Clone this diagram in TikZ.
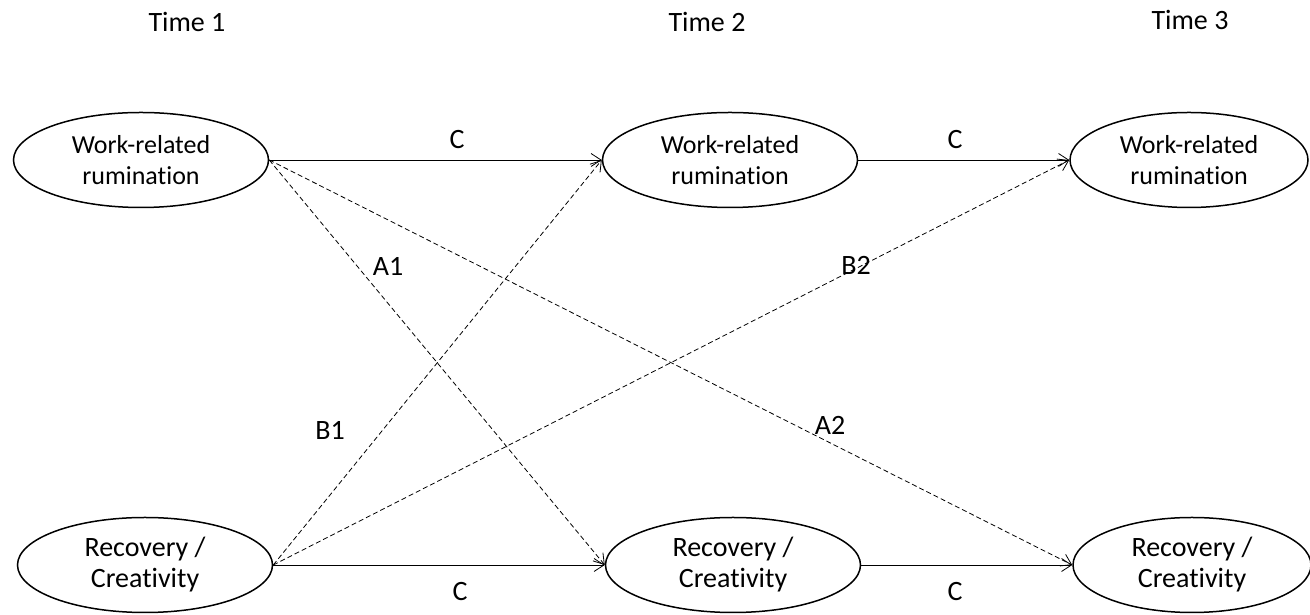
\documentclass[tikz,border=0pt]{standalone}
\usepackage{fontspec}
\setmainfont{Carlito}[Ligatures={NoCommon}]
\usetikzlibrary{shapes.geometric,arrows.meta}
\begin{document}
\begin{tikzpicture}[
        x=1pt, y=1pt,
        var/.style={draw, ellipse, line width=1.5pt, minimum width=255pt, minimum height=95pt, inner sep=0pt, align=center, font=\fontsize{26}{31}\selectfont},
        lag/.style={draw, line width=0.8pt, -{Straight Barb[length=10pt,width=13pt]}},
        cross/.style={lag, dash pattern=on 5pt off 3pt},
        lbl/.style={font=\fontsize{28}{32}\selectfont},
    ]
    \useasboundingbox (0,0) rectangle (1310,615);
    % time points
    \node[lbl](t1) at (187,593){Time 1};
    \node[lbl](t2) at (707,593){Time 2};
    \node[lbl](t3) at (1190,595){Time 3};
    % variables
    \node[var](rum1) at (141,455){Work-related\\rumination};
    \node[var](rum2) at (730,455){Work-related\\rumination};
    \node[var, minimum width=238pt](rum3) at (1189,455){Work-related\\rumination};
    \node[var, font=\fontsize{28}{31}\selectfont](rec1) at (145,50){Recovery /\\Creativity};
    \node[var, font=\fontsize{28}{31}\selectfont](rec2) at (733,50){Recovery /\\Creativity};
    \node[var, font=\fontsize{28}{31}\selectfont, minimum width=238pt](rec3) at (1192,50){Recovery /\\Creativity};
    % stability paths
    \draw[lag] (rum1.east) -- (rum2.west);
    \draw[lag] (rum2.east) -- (rum3.west);
    \draw[lag] (rec1.east) -- (rec2.west);
    \draw[lag] (rec2.east) -- (rec3.west);
    % cross-lagged paths
    \draw[cross] (rum1.east) -- (rec2.west);
    \draw[cross] (rum1.east) -- (rec3.west);
    \draw[cross] (rec1.east) -- (rum2.west);
    \draw[cross] (rec1.east) -- (rum3.west);
    % path labels
    \node[lbl](c1) at (457,475){C};
    \node[lbl](c2) at (955,475){C};
    \node[lbl](c3) at (460,23){C};
    \node[lbl](c4) at (955,23){C};
    \node[lbl](a1) at (388,349){A1};
    \node[lbl](a2) at (830,190){A2};
    \node[lbl](b1) at (330,185){B1};
    \node[lbl](b2) at (856,350){B2};
\end{tikzpicture}
\end{document}
